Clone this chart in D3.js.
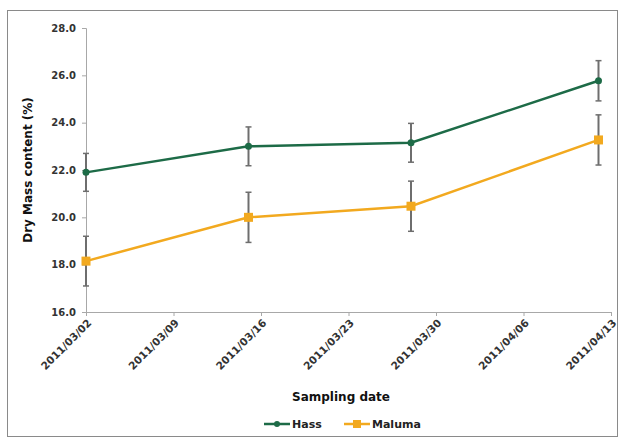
<!DOCTYPE html>
<html>
<head>
<meta charset="utf-8">
<script src="https://cdn.jsdelivr.net/npm/d3@7"></script>
<style>
  body { margin: 0; background: #fff; }
  text { font-family: "DejaVu Sans", Verdana, sans-serif; }
</style>
</head>
<body>
<div id="container"></div>
<script>
// container window size
let cwW = 620;
let cwH = 441;

// data
const dates = ["2011-03-02", "2011-03-15", "2011-03-28", "2011-04-12"];
const hassValues = [21.9, 23.0, 23.15, 25.77];
const hassErrors = [0.8, 0.82, 0.82, 0.85];
const malumaValues = [18.15, 20.0, 20.47, 23.27];
const malumaErrors = [1.05, 1.06, 1.06, 1.06];
const yTicks = [16, 18, 20, 22, 24, 26, 28];
const xTickLabels = ["2011/03/02", "2011/03/09", "2011/03/16", "2011/03/23", "2011/03/30", "2011/04/06", "2011/04/13"];

const hassColor = "#1d6b47";
const malumaColor = "#f2a91f";
const errColor = "#6e6e6e";

const parseDate = d3.timeParse("%Y-%m-%d");
const parseTick = d3.timeParse("%Y/%m/%d");

const margin = {left: 86, right: 9, top: 28, bottom: 129};

let svgArea = d3.select("#container")
  .append("svg")
  .attr("width", cwW)
  .attr("height", cwH);

// outer frame
svgArea.append("rect")
  .attr("x", 7.5).attr("y", 10.5)
  .attr("width", 610).attr("height", 426)
  .attr("fill", "none")
  .attr("stroke", "#8a8a8a");

let x = d3.scaleTime()
  .domain([parseTick(xTickLabels[0]), parseTick(xTickLabels[xTickLabels.length - 1])])
  .range([margin.left, cwW - margin.right]);

let y = d3.scaleLinear()
  .domain([16, 28])
  .range([cwH - margin.bottom, margin.top]);

/**************************
* Axes
**************************/
let yAxis = svgArea.append("g")
  .attr("transform", "translate(" + margin.left + ",0)")
  .call(d3.axisLeft(y).tickValues(yTicks).tickFormat(d3.format(".1f")).tickSize(4).tickPadding(6));
yAxis.select(".domain").attr("stroke", "#a8a8a8");
yAxis.selectAll(".tick line").attr("stroke", "#a8a8a8");
yAxis.selectAll("text").attr("fill", "#333").attr("font-size", "10px").attr("font-weight", "bold");

let xAxis = svgArea.append("g")
  .attr("transform", "translate(0," + y(16) + ")")
  .call(d3.axisBottom(x).tickValues(xTickLabels.map(parseTick)).tickFormat(d3.timeFormat("%Y/%m/%d")).tickSize(4));
xAxis.select(".domain").attr("stroke", "#a8a8a8");
xAxis.selectAll(".tick line").attr("stroke", "#a8a8a8");
xAxis.selectAll("text")
  .attr("fill", "#333")
  .attr("font-size", "10.5px")
  .attr("font-weight", "bold")
  .attr("text-anchor", "end")
  .attr("dx", "-0.4em")
  .attr("dy", "0.5em")
  .attr("transform", "rotate(-45)");

// axis titles
svgArea.append("text")
  .attr("transform", "translate(32," + ((y(16) + y(28)) / 2) + ") rotate(-90)")
  .attr("text-anchor", "middle")
  .attr("font-size", "12px")
  .attr("font-weight", "bold")
  .attr("fill", "#111")
  .text("Dry Mass content (%)");

svgArea.append("text")
  .attr("x", 341).attr("y", 401)
  .attr("text-anchor", "middle")
  .attr("font-size", "12px")
  .attr("font-weight", "bold")
  .attr("fill", "#111")
  .text("Sampling date");

/**************************
* Series
**************************/
function drawSeries(values, errors, color, marker) {
  let pts = dates.map((d, i) => ({date: parseDate(d), v: values[i], e: errors[i]}));
  let g = svgArea.append("g");

  g.append("path")
    .datum(pts)
    .attr("d", d3.line().x(d => x(d.date)).y(d => y(d.v)))
    .attr("fill", "none")
    .attr("stroke", color)
    .attr("stroke-width", 2.5);

  // error bars
  let eb = g.selectAll(".err").data(pts).enter().append("g");
  eb.append("line")
    .attr("x1", d => x(d.date)).attr("x2", d => x(d.date))
    .attr("y1", d => y(d.v + d.e)).attr("y2", d => y(d.v - d.e))
    .attr("stroke", errColor).attr("stroke-width", 2);
  eb.append("line")
    .attr("x1", d => x(d.date) - 3).attr("x2", d => x(d.date) + 3)
    .attr("y1", d => y(d.v + d.e)).attr("y2", d => y(d.v + d.e))
    .attr("stroke", errColor).attr("stroke-width", 1.5);
  eb.append("line")
    .attr("x1", d => x(d.date) - 3).attr("x2", d => x(d.date) + 3)
    .attr("y1", d => y(d.v - d.e)).attr("y2", d => y(d.v - d.e))
    .attr("stroke", errColor).attr("stroke-width", 1.5);

  if (marker === "circle") {
    g.selectAll("circle").data(pts).enter().append("circle")
      .attr("cx", d => x(d.date)).attr("cy", d => y(d.v))
      .attr("r", 3.5).attr("fill", color);
  } else {
    g.selectAll("rect.m").data(pts).enter().append("rect")
      .attr("x", d => x(d.date) - 4.5).attr("y", d => y(d.v) - 4.5)
      .attr("width", 9).attr("height", 9).attr("fill", color);
  }
}

drawSeries(malumaValues, malumaErrors, malumaColor, "square");
drawSeries(hassValues, hassErrors, hassColor, "circle");

/**************************
* Legend
**************************/
let legend = svgArea.append("g").attr("transform", "translate(0,424)");
legend.append("line").attr("x1", 264).attr("x2", 290).attr("y1", 0).attr("y2", 0)
  .attr("stroke", hassColor).attr("stroke-width", 2.5);
legend.append("circle").attr("cx", 277).attr("cy", 0).attr("r", 3).attr("fill", hassColor);
legend.append("text").attr("x", 292).attr("y", 4).attr("font-size", "11px")
  .attr("font-weight", "bold").attr("fill", "#222").text("Hass");
legend.append("line").attr("x1", 344).attr("x2", 370).attr("y1", 0).attr("y2", 0)
  .attr("stroke", malumaColor).attr("stroke-width", 2.5);
legend.append("rect").attr("x", 353).attr("y", -4).attr("width", 8).attr("height", 8).attr("fill", malumaColor);
legend.append("text").attr("x", 372).attr("y", 4).attr("font-size", "11px")
  .attr("font-weight", "bold").attr("fill", "#222").text("Maluma");
</script>
</body>
</html>
